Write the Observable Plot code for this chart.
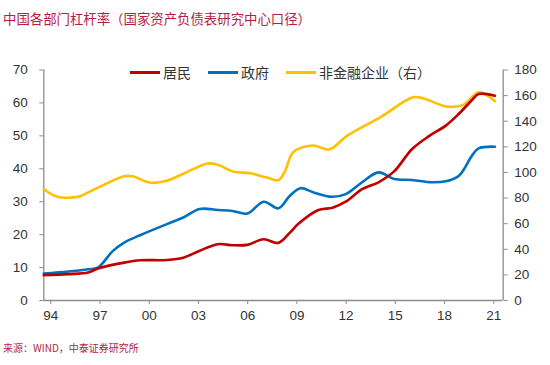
<!DOCTYPE html>
<html>
<head>
<meta charset="utf-8">
<script src="https://cdn.jsdelivr.net/npm/d3@7"></script>
<script src="https://cdn.jsdelivr.net/npm/@observablehq/plot@0.6"></script>
<style>
  html, body { margin: 0; padding: 0; background: #fff; }
  #wrap { position: relative; width: 550px; height: 365px; overflow: hidden; font-family: "Liberation Sans", Arial, sans-serif; }
  #title { position: absolute; left: 3px; top: 9px; font-family: "Noto Sans CJK SC", sans-serif; font-size: 13.4px; color: #B31E45; line-height: 18px; white-space: nowrap; }
  #chart { position: absolute; left: 0; top: 30px; }
  #legend { position: absolute; top: 62px; left: 130px; display: flex; align-items: center; font-family: "Noto Sans CJK SC", sans-serif; font-size: 14px; color: #333; white-space: nowrap; }
  .item { display: flex; align-items: center; margin-right: 17px; }
  .swatch { width: 30px; height: 3px; margin-right: 3px; }
  #source { position: absolute; left: 3px; top: 340px; font-family: "Noto Sans CJK SC", sans-serif; font-size: 10px; color: #B31E45; white-space: nowrap; }
</style>
</head>
<body>
<div id="wrap">
  <div id="title"></div>
  <div id="chart"></div>
  <div id="legend"></div>
  <div id="source"></div>
</div>
<script>
const titleText = "中国各部门杠杆率（国家资产负债表研究中心口径）";
const sourceText = "来源：WIND，中泰证券研究所";
const seriesNames = ["居民", "政府", "非金融企业（右）"];
const seriesColors = ["#C00000", "#0070C0", "#FFC000"];

// 居民 (left axis, %)
const hhYears  = [1994.0, 1995.5, 1996.7, 1997.3, 1998.9, 1999.9, 2001.5, 2002.5, 2003.5, 2004.6, 2005.5, 2006.4, 2007.4, 2008.3, 2009.0, 2009.5, 2010.7, 2011.6, 2012.4, 2013.4, 2014.4, 2015.35, 2016.45, 2017.5, 2018.5, 2019.3, 2020.1, 2020.5, 2021.5];
const hhValues = [7.7, 8.0, 8.5, 9.7, 11.5, 12.2, 12.3, 13.0, 15.1, 17.1, 16.8, 16.9, 18.6, 17.5, 20.6, 23.2, 27.4, 28.2, 30.0, 33.8, 35.9, 39.2, 46.0, 50.0, 53.1, 56.7, 60.9, 62.7, 62.2];

// 政府 (left axis, %)
const govYears  = [1994.0, 1995.5, 1996.7, 1997.3, 1998.2, 1998.9, 1999.9, 2001.5, 2002.5, 2003.5, 2004.6, 2005.5, 2006.4, 2007.4, 2008.3, 2009.0, 2009.65, 2010.45, 2011.55, 2012.4, 2013.4, 2014.4, 2015.35, 2016.45, 2017.65, 2018.5, 2019.3, 2020.1, 2020.5, 2021.5];
const govValues = [8.2, 8.8, 9.5, 10.0, 15.0, 17.6, 19.9, 23.2, 25.2, 27.8, 27.5, 27.2, 26.4, 30.0, 28.0, 31.8, 34.1, 32.8, 31.5, 32.3, 35.9, 38.9, 36.9, 36.6, 35.9, 36.2, 37.9, 44.0, 46.2, 46.7];

// 非金融企业 (right axis, %)
const corpYears  = [1994.0, 1994.8, 1996.1, 1996.4, 1998.9, 1999.4, 2000.5, 2001.5, 2002.5, 2004.0, 2004.6, 2005.6, 2006.5, 2007.6, 2008.3, 2008.7, 2009.2, 2010.4, 2011.4, 2012.5, 2014.5, 2016.5, 2017.1, 2018.6, 2019.6, 2020.5, 2021.5];
const corpValues = [87, 81, 81, 82.5, 97, 97, 92, 93.5, 99, 107, 106, 100.5, 99.5, 96, 94, 101, 115.7, 121, 118, 128.7, 143, 158.7, 158, 151.4, 153, 162.6, 155.6];

const xTicks = [1994, 1997, 2000, 2003, 2006, 2009, 2012, 2015, 2018, 2021];
const xTickLabels = ["94", "97", "00", "03", "06", "09", "12", "15", "18", "21"];
const leftTicks = [0, 10, 20, 30, 40, 50, 60, 70];
const rightTicks = [0, 20, 40, 60, 80, 100, 120, 140, 160, 180];

const leftMax = 70, rightMax = 180;
const toLeft = v => v * leftMax / rightMax;

const hh = hhYears.map((x, i) => ({x, y: hhValues[i]}));
const gov = govYears.map((x, i) => ({x, y: govValues[i]}));
const corp = corpYears.map((x, i) => ({x, y: toLeft(corpValues[i])}));

document.getElementById("title").textContent = titleText;
document.getElementById("source").textContent = sourceText;

const legend = document.getElementById("legend");
seriesNames.forEach((n, i) => {
  const it = document.createElement("div");
  it.className = "item";
  const sw = document.createElement("div");
  sw.className = "swatch";
  sw.style.background = seriesColors[i];
  const tx = document.createElement("span");
  tx.textContent = n;
  it.appendChild(sw); it.appendChild(tx);
  legend.appendChild(it);
});

const axisColor = "#8c8c8c";
const chart = Plot.plot({
  width: 550,
  height: 305,
  marginTop: 39.5,
  marginBottom: 35,
  marginLeft: 43.3,
  marginRight: 47.3,
  style: {fontFamily: "'Liberation Sans', Arial, sans-serif", fontSize: "13.5px", color: "#333", background: "transparent"},
  x: {domain: [1994, 2022]},
  y: {domain: [0, leftMax]},
  marks: [
    Plot.ruleX([1994, 2022], {stroke: axisColor, strokeWidth: 1.3}),
    Plot.ruleY([0], {stroke: axisColor, strokeWidth: 1.3}),
    Plot.axisX(xTicks, {anchor: "bottom", tickSize: 4, tickPadding: 6, stroke: axisColor, tickFormat: (d, i) => xTickLabels[xTicks.indexOf(d)], dx: 7, label: null}),
    Plot.axisY(leftTicks, {anchor: "left", tickSize: 4, tickPadding: 12, stroke: axisColor, label: null}),
    Plot.axisY(rightTicks.map(toLeft), {anchor: "right", tickSize: 4, tickPadding: 7, stroke: axisColor, tickFormat: d => String(Math.round(d * rightMax / leftMax)), label: null}),
    Plot.line(corp, {x: "x", y: "y", stroke: seriesColors[2], strokeWidth: 2.6, curve: "catmull-rom"}),
    Plot.line(gov, {x: "x", y: "y", stroke: seriesColors[1], strokeWidth: 2.6, curve: "catmull-rom"}),
    Plot.line(hh, {x: "x", y: "y", stroke: seriesColors[0], strokeWidth: 2.6, curve: "catmull-rom"})
  ]
});
document.getElementById("chart").appendChild(chart);
</script>
</body>
</html>
